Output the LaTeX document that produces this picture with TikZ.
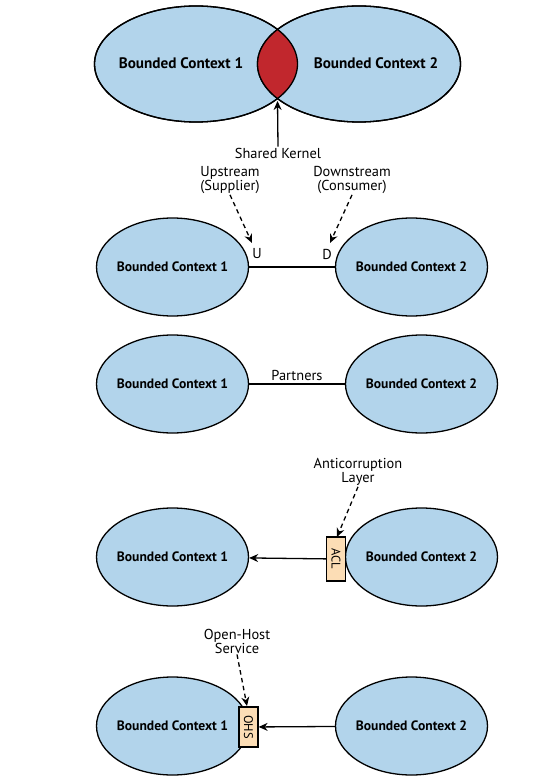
\documentclass[tikz,border=0pt]{standalone}
\usepackage{fontspec}
\setmainfont{PT Sans}
\usetikzlibrary{positioning, arrows.meta, shapes.geometric}

\definecolor{ctxblue}{RGB}{178,212,235}
\definecolor{kernelred}{RGB}{193,39,45}
\definecolor{layerpeach}{RGB}{252,221,181}

% label that does not widen its ellipse
\newcommand{\ctxname}[1]{\makebox[0pt]{#1}}

\begin{document}
\begin{tikzpicture}[
  x=1pt, y=-1pt,
  >=Stealth,
  ctx/.style={ellipse, draw, line width=1.3pt, fill=ctxblue, inner sep=0pt,
    minimum width=152pt, minimum height=98pt, font=\bfseries\fontsize{13.6}{16}\selectfont},
  bigctx/.style={ctx, minimum width=203pt, minimum height=116pt},
  ctxtext/.style={font=\bfseries\fontsize{15.2}{17}\selectfont},
  layer/.style={draw, line width=1.3pt, fill=layerpeach, rotate=-90, inner sep=0pt,
    minimum height=19pt, font=\fontsize{12.5}{13}\selectfont},
  note/.style={align=center, inner sep=1pt, font=\fontsize{14.4}{14}\selectfont},
  link/.style={line width=1.3pt},
  arr/.style={-{Stealth[length=9pt,width=8pt]}, line width=1.3pt},
  darr/.style={arr, dash pattern=on 4.5pt off 3.5pt},
]
\useasboundingbox[fill=white] (0,0) rectangle (538,778);

% ---- shared kernel ----
\node[bigctx] (k1) at (196,64) {};
\node[bigctx] (k2) at (359,64) {};
\begin{scope}
  \clip (k1) ellipse [x radius=101.5pt, y radius=58pt];
  \fill[kernelred] (k2) ellipse [x radius=101.5pt, y radius=58pt];
\end{scope}
\draw[link] (k1) ellipse [x radius=101.5pt, y radius=58pt];
\draw[link] (k2) ellipse [x radius=101.5pt, y radius=58pt];
\node[ctxtext] (k1text) at (181,63) {Bounded Context 1};
\node[ctxtext] (k2text) at (376,63) {Bounded Context 2};
\node[note] (kernel) at (278,153) {Shared Kernel};
\coordinate (lens) at (277.5,101);
\draw[arr] (kernel.north) -- (lens);

% ---- customer / supplier ----
\node[ctx] (us1) at (172.5,267) {\ctxname{Bounded Context 1}};
\node[ctx] (us2) at (411.5,267) {\ctxname{Bounded Context 2}};
\draw[link] (us1) -- (us2);
\node[note] (u) at (257,254) {U};
\node[note] (d) at (327,254) {D};
\node[note] (upnote) at (230,180) {Upstream\\(Supplier)};
\node[note] (downnote) at (352,180) {Downstream\\(Consumer)};
\coordinate (uptip) at (252,243);
\coordinate (downtip) at (330,243);
\draw[darr] (upnote.south) -- (uptip);
\draw[darr] (downnote.south) -- (downtip);

% ---- partnership ----
\node[ctx] (p1) at (172.5,384) {\ctxname{Bounded Context 1}};
\node[ctx] (p2) at (421.5,384) {\ctxname{Bounded Context 2}};
\draw[link] (p1) -- node[note, above=2pt] (partners) {Partners} (p2);

% ---- anticorruption layer ----
\node[ctx] (a1) at (172.5,557) {\ctxname{Bounded Context 1}};
\node[ctx] (a2) at (421.5,557) {\ctxname{Bounded Context 2}};
\node[layer, minimum width=44pt] (acl) at (336,559) {ACL};
\draw[arr] (acl) -- (a1);
\node[note] (aclnote) at (358,472) {Anticorruption\\Layer};
\coordinate (acltip) at (337,537);
\draw[darr] (aclnote.south) -- (acltip);

% ---- open-host service ----
\node[ctx] (o1) at (172.5,726) {\ctxname{Bounded Context 1}};
\node[ctx] (o2) at (411.5,726) {\ctxname{Bounded Context 2}};
\node[layer, minimum width=40pt] (ohs) at (248.5,727) {OHS};
\draw[arr] (o2) -- (ohs);
\node[note] (ohsnote) at (237,641) {Open-Host\\Service};
\coordinate (ohstip) at (247,706);
\draw[darr] (ohsnote.south) -- (ohstip);

\end{tikzpicture}
\end{document}
